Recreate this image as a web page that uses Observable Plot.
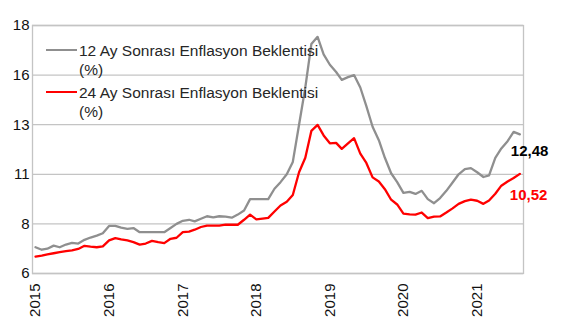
<!DOCTYPE html>
<html>
<head>
<meta charset="utf-8">
<script src="https://cdn.jsdelivr.net/npm/d3@7"></script>
<script src="https://cdn.jsdelivr.net/npm/@observablehq/plot@0.6"></script>
<style>
  html, body { margin: 0; padding: 0; background: #fff; }
  #wrap { position: relative; width: 562px; height: 328px; font-family: "Liberation Sans", Arial, sans-serif; }
  #wrap svg { position: absolute; left: 0; top: 0; }
  .leg { position: absolute; left: 46px; font-size: 15.5px; line-height: 19px; color: #262626; white-space: nowrap; }
  .leg .sw { position: absolute; left: 0; width: 31px; height: 2px; }
  .leg .tx { position: absolute; left: 33px; top: 0; }
</style>
</head>
<body>
<div id="wrap"></div>
<script>
// ---- data ----
const startMonth = "2015-01";
const yearTicks = [2015, 2016, 2017, 2018, 2019, 2020, 2021];
const yTicks = [6, 8.4, 10.8, 13.2, 15.6, 18];
const seriesNames = ["12 Ay Sonrası Enflasyon Beklentisi", "24 Ay Sonrası Enflasyon Beklentisi"];
const seriesUnit = "(%)";
const seriesColors = ["#8f8f8f", "#ff0000"];
const lastLabels = ["12,48", "10,52"];
const lastLabelColors = ["#000000", "#ff0000"];

const exp12 = [
  7.27, 7.15, 7.20, 7.35, 7.27, 7.40, 7.48, 7.45, 7.63, 7.74, 7.83, 7.95,
  8.30, 8.30, 8.22, 8.16, 8.20, 8.00, 8.00, 8.00, 8.00, 8.00, 8.20, 8.40,
  8.55, 8.60, 8.52, 8.65, 8.77, 8.72, 8.77, 8.75, 8.70, 8.85, 9.05, 9.60,
  9.60, 9.60, 9.60, 10.10, 10.42, 10.80, 11.40, 13.20, 15.00, 17.10, 17.45, 16.60,
  16.10, 15.75, 15.37, 15.50, 15.60, 15.00, 14.10, 13.10, 12.45, 11.60, 10.85, 10.42,
  9.90, 9.95, 9.85, 10.00, 9.60, 9.40, 9.65, 10.00, 10.40, 10.80, 11.05, 11.10,
  10.90, 10.67, 10.75, 11.60, 12.05, 12.40, 12.85, 12.73
];
const exp24 = [
  6.82, 6.87, 6.93, 6.98, 7.03, 7.08, 7.12, 7.19, 7.34, 7.30, 7.27, 7.31,
  7.60, 7.71, 7.65, 7.60, 7.52, 7.40, 7.45, 7.58, 7.52, 7.47, 7.68, 7.73,
  8.00, 8.03, 8.12, 8.25, 8.32, 8.32, 8.32, 8.36, 8.36, 8.36, 8.60, 8.85,
  8.62, 8.66, 8.69, 9.00, 9.29, 9.47, 9.80, 10.90, 11.60, 12.90, 13.19, 12.68,
  12.30, 12.32, 12.03, 12.30, 12.55, 11.80, 11.35, 10.65, 10.45, 10.08, 9.57, 9.34,
  8.90, 8.86, 8.85, 8.95, 8.68, 8.75, 8.76, 8.95, 9.15, 9.37, 9.50, 9.57,
  9.52, 9.37, 9.53, 9.86, 10.25, 10.45, 10.62, 10.82
];

// ---- build table ----
const start = d3.utcParse("%Y-%m")(startMonth);
const dates = exp12.map((_, i) => d3.utcMonth.offset(start, i));
const rows = [];
[exp12, exp24].forEach((arr, s) => arr.forEach((v, i) => rows.push({date: dates[i], value: v, series: s})));
const lastDate = dates[dates.length - 1];

const chart = Plot.plot({
  width: 562,
  height: 328,
  marginLeft: 32,
  marginRight: 39,
  marginTop: 25,
  marginBottom: 55,
  style: {fontFamily: "'Liberation Sans', Arial, sans-serif", fontSize: "15px", color: "#000", background: "transparent"},
  x: {
    type: "utc",
    domain: [new Date(Date.UTC(2014, 11, 17)), new Date(Date.UTC(2021, 7, 19))],
    label: null
  },
  y: {domain: [6, 18], label: null},
  marks: [
    Plot.gridY(yTicks, {stroke: "#c4c4c4", strokeOpacity: 1, strokeWidth: 1.3}),
    Plot.frame({stroke: "#c4c4c4", strokeWidth: 1.3}),
    Plot.axisY(yTicks, {tickSize: 0, tickPadding: 3, tickFormat: d => String(Math.round(d)), fontSize: 15, fill: "#111", label: null}),
    Plot.axisX(yearTicks.map(y => new Date(Date.UTC(y, 0, 1))), {
      tickSize: 0, tickPadding: 10, tickRotate: -90, tickFormat: d3.utcFormat("%Y"), fontSize: 15, fill: "#111", label: null
    }),
    Plot.line(rows, {x: "date", y: "value", z: "series", stroke: d => seriesColors[d.series], strokeWidth: 2.3, curve: "linear"}),
    Plot.text([{date: lastDate, value: exp12[exp12.length - 1], label: lastLabels[0]}],
      {x: "date", y: "value", text: "label", fill: lastLabelColors[0], textAnchor: "start", dx: -9, dy: 17, fontWeight: "bold", fontSize: 15}),
    Plot.text([{date: lastDate, value: exp24[exp24.length - 1], label: lastLabels[1]}],
      {x: "date", y: "value", text: "label", fill: lastLabelColors[1], textAnchor: "start", dx: -10, dy: 21, fontWeight: "bold", fontSize: 15})
  ]
});
const wrap = document.getElementById("wrap");
wrap.appendChild(chart);

// ---- legend (inside the plot area, top-left) ----
const legTops = [41, 83];
seriesNames.forEach((name, i) => {
  const d = document.createElement("div");
  d.className = "leg";
  d.style.top = legTops[i] + "px";
  d.innerHTML = `<span class="sw" style="top:8px;background:${seriesColors[i]}"></span><span class="tx">${name}<br>${seriesUnit}</span>`;
  wrap.appendChild(d);
});
</script>
</body>
</html>
